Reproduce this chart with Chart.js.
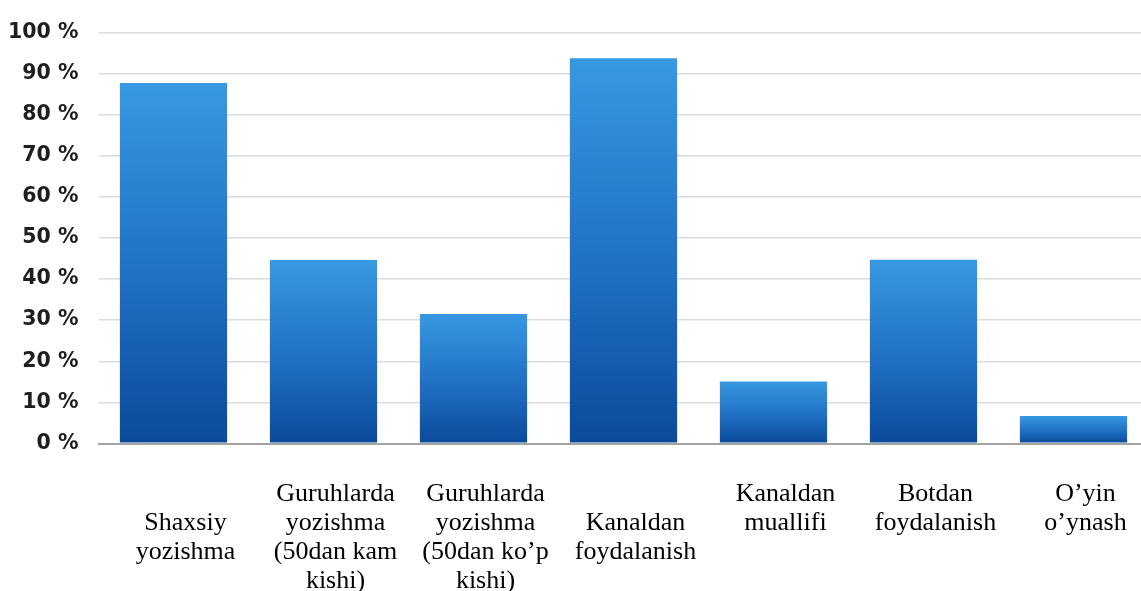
<!DOCTYPE html>
<html>
<head>
<meta charset="utf-8">
<script src="https://cdn.jsdelivr.net/npm/chart.js@4"></script>
<style>
  html, body { margin: 0; padding: 0; background: #ffffff; overflow: hidden; }
  #wrap { position: relative; width: 1150px; height: 591px; }
</style>
</head>
<body>
<div id="wrap"><canvas id="chart"></canvas></div>
<script>
// Telegram usage shares, per activity (percent of respondents)
const categories = [
  ["", "Shaxsiy", "yozishma"],
  ["Guruhlarda", "yozishma", "(50dan kam", "kishi)"],
  ["Guruhlarda", "yozishma", "(50dan ko’p", "kishi)"],
  ["", "Kanaldan", "foydalanish"],
  ["Kanaldan", "muallifi"],
  ["Botdan", "foydalanish"],
  ["O’yin", "o’ynash"]
];
const shares = [87.7, 44.6, 31.5, 93.7, 15.1, 44.7, 6.7];
const yTickValues = [0, 10, 20, 30, 40, 50, 60, 70, 80, 90, 100];

// vertical blue gradient spanning each bar from its top to the baseline
function barFill(ctx) {
  const chart = ctx.chart;
  if (!chart.chartArea || ctx.type !== 'data') return '#1f6fc2';
  const y = chart.scales.y;
  const v = chart.data.datasets[ctx.datasetIndex].data[ctx.dataIndex];
  const top = y.getPixelForValue(v);
  const base = y.getPixelForValue(0);
  const g = chart.ctx.createLinearGradient(0, top, 0, base);
  g.addColorStop(0, '#3799e2');
  g.addColorStop(0.55, '#1f6fc3');
  g.addColorStop(1, '#0a4a9b');
  return g;
}

new Chart(document.getElementById('chart'), {
  type: 'bar',
  data: {
    labels: categories,
    datasets: [{
      data: shares,
      backgroundColor: barFill,
      borderWidth: 0,
      categoryPercentage: 1,
      barPercentage: 0.715
    }]
  },
  options: {
    responsive: true,
    maintainAspectRatio: false,
    animation: false,
    layout: { padding: { top: 28.5, right: 1.5, bottom: 0, left: 0 } },
    plugins: { legend: { display: false }, tooltip: { enabled: false } },
    scales: {
      x: {
        grid: { display: false },
        border: { display: true, color: '#a3a3a3', width: 2 },
        ticks: {
          color: '#000000',
          font: { family: '"Liberation Serif", "Times New Roman", serif', size: 26, lineHeight: 1.12 },
          padding: 28,
          labelOffset: 12,
          maxRotation: 0,
          minRotation: 0,
          autoSkip: false
        },
        afterFit: (scale) => { scale.height = 147.5; }
      },
      y: {
        min: 0,
        max: 100,
        afterBuildTicks: (scale) => { scale.ticks = yTickValues.map(v => ({ value: v })); },
        grid: {
          drawTicks: false,
          color: (c) => c.tick && c.tick.value === 0 ? '#a3a3a3' : '#dcdcdc',
          lineWidth: (c) => c.tick && c.tick.value === 0 ? 2 : 1.5
        },
        border: { display: false },
        ticks: {
          color: '#1e1e1e',
          font: { family: '"DejaVu Sans", sans-serif', weight: 'bold', size: 20.5 },
          padding: 20,
          callback: (v) => v + ' %'
        },
        afterFit: (scale) => { scale.width = 98.5; }
      }
    }
  }
});
</script>
</body>
</html>
